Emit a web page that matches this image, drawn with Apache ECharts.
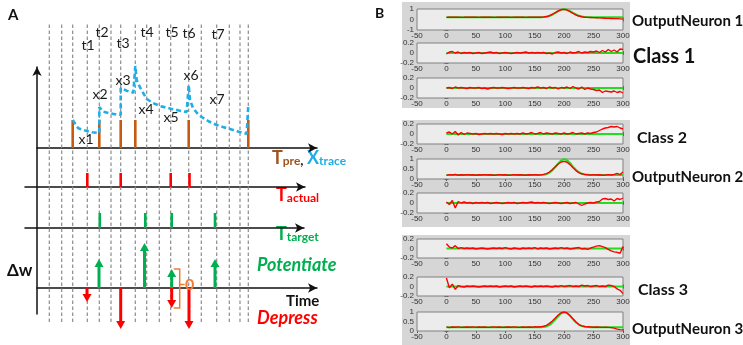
<!DOCTYPE html>
<html><head><meta charset="utf-8">
<script src="https://cdn.jsdelivr.net/npm/echarts@6/dist/echarts.min.js"></script>
<style>html,body{margin:0;padding:0;background:#fff}#c{width:743px;height:345px}</style>
</head><body><div id="c"></div>
<script>
// ================= Panel A data (time in arbitrary units) =================
const dashT = [12.3, 24.7, 35.7, 50.3, 62.3, 74, 83.7, 98.3, 109.7, 122.3, 133.7, 151.7, 164.3, 179.7, 192.3, 203, 211.3];
const preSpikeT = [35.7, 62.3, 83.7, 98.3, 151.7, 211.3];
const preSpikeH = [28, 28, 28, 28, 28, 28];
const traceT = [35.7, 37, 41.3, 49.7, 55, 62.3, 62.3, 66.3, 73, 78, 83.7, 83.7, 89.7, 96.3, 98.3, 98.3, 99.7, 103, 109.7, 116, 123, 133.7, 142, 149.7, 151.7, 151.7, 153, 156, 160, 164.7, 172, 179.7, 186, 193, 201, 209.7, 211.3, 211.3];
const traceV = [28, 26.3, 19.7, 17, 15.8, 15, 41, 36.3, 34.7, 33.8, 33, 60, 57.3, 55.3, 55, 82, 68, 60.7, 49, 45, 42, 39.3, 37.5, 36, 35.8, 63, 48, 40, 35, 31, 26.5, 23, 21, 19, 16.5, 14.2, 14, 43];
const actualT = [50.3, 83.7, 133.7, 152.5];
const actualH = [14, 14, 14, 14];
const targetT = [62.8, 108.3, 134.7, 178];
const targetH = [15, 15, 15, 15];
const dwT = [50, 62, 83.7, 107.5, 134.7, 134.7, 152, 178];
const dwV = [-14, 29, -41, 45, 19, -20, -41, 29];
const bracketT = [134.7];
const bracketTop = [19];
const bracketBottom = [-20];
const bracketLabel = ['0'];
const tLabels = ['t1', 't2', 't3', 't4', 't5', 't6', 't7'];
const tLabelT = [51, 65, 86, 110, 135, 152, 181];
const tLabelV = [103, 116, 105, 116, 116, 115, 114];
const xLabels = ['x1', 'x2', 'x3', 'x4', 'x5', 'x6', 'x7'];
const xLabelT = [49, 63, 86, 109, 134, 154, 180];
const xLabelV = [9, 54, 68, 39, 31, 73, 49];

// ================= Panel B data =================
const bX = [0,5,10,15,20,25,30,35,40,45,50,55,60,65,70,75,80,85,90,95,100,105,110,115,120,125,130,135,140,145,150,155,160,165,170,175,180,185,190,195,200,205,210,215,220,225,230,235,240,245,250,255,260,265,270,275,280,285,290,295,300];
const classTargetX = [0, 300];
const classTargetY = [0, 0];
const n1Target = [0.22,0.22,0.22,0.22,0.22,0.22,0.22,0.22,0.22,0.22, 0.22,0.22,0.22,0.22,0.22,0.22,0.22,0.22,0.22,0.22, 0.22,0.22,0.22,0.22,0.22,0.22,0.22,0.22,0.22,0.22, 0.22,0.22,0.22, 0.23,0.26,0.33,0.46,0.62,0.8,0.94,1.0,0.94,0.8,0.63,0.48,0.36,0.29,0.25,0.23, 0.22,0.22,0.22,0.22,0.22,0.22,0.22,0.22,0.22,0.22,0.22,0.22];
const n1Out = [0.2,0.22,0.21,0.23,0.22,0.2,0.21,0.23,0.22,0.21, 0.22,0.2,0.22,0.23,0.21,0.22,0.2,0.21,0.23,0.22, 0.21,0.22,0.2,0.22,0.21,0.23,0.22,0.2,0.22,0.21, 0.23,0.22,0.21, 0.24,0.28,0.36,0.5,0.66,0.82,0.93,0.97,0.9,0.75,0.58,0.43,0.33,0.26,0.22,0.2, 0.19,0.18,0.17,0.15,0.14,0.12,0.11,0.1,0.08,0.08,0.06,0.04];
const c1aOut = [-0.02,0.02,0.03,0.0,0.02,-0.01,0.01,0.0,0.01,-0.01, 0.0,0.01,-0.01,0.0,0.01,0.02,0.0,0.01,-0.01,0.0, 0.01,0.0,-0.01,0.0,0.01,0.0,0.01,0.02,0.0,0.01, 0.0,0.01,0.0,0.01,-0.01,0.0,-0.02,0.01,0.02,0.0, 0.01,-0.01,0.02,0.0,0.01,0.03,0.0,0.02,0.01,0.03, 0.02,0.04,0.01,0.05,0.02,0.07,0.03,0.06,0.02,0.08, 0.07];
const c1bOut = [0.0,0.01,-0.01,0.02,0.0,0.01,0.0,-0.01,0.01,0.0, 0.0,0.01,-0.01,0.0,-0.02,0.0,0.01,0.0,0.0,0.01, 0.0,-0.01,0.0,0.01,0.0,0.0,0.01,0.0,-0.01,0.01, 0.0,0.02,0.0,0.01,-0.01,0.02,0.0,0.01,-0.02,0.01, 0.0,0.02,-0.01,0.03,0.0,-0.02,0.02,-0.03,0.0,-0.02, -0.03,-0.05,-0.04,-0.09,-0.06,-0.07,-0.08,-0.06,-0.09,-0.07, -0.1];
const c2aOut = [0.02,0.04,0.0,0.05,-0.02,0.03,-0.01,0.02,0.01,0.0, 0.01,-0.01,0.0,0.01,0.0,0.01,0.0,0.01,0.0,-0.01, 0.01,0.0,0.01,0.0,0.01,0.0,0.02,0.0,0.01,0.03, 0.0,0.01,0.03,0.0,0.02,0.01,0.0,0.02,0.01,0.0, 0.02,0.0,0.01,0.03,0.0,0.01,0.02,0.0,0.02,0.01, 0.03,0.04,0.07,0.1,0.12,0.13,0.15,0.14,0.15,0.12, 0.1];
const n2Target = [0.2,0.2,0.2,0.2,0.2,0.2,0.2,0.2,0.2,0.2, 0.2,0.2,0.2,0.2,0.2,0.2,0.2,0.2,0.2,0.2, 0.2,0.2,0.2,0.2,0.2,0.2,0.2,0.2,0.2,0.2, 0.2,0.2,0.2, 0.21,0.24,0.31,0.44,0.6,0.78,0.93,1.0,0.94,0.8,0.62,0.46,0.34,0.26,0.22,0.21, 0.2,0.2,0.2,0.2,0.2,0.2,0.2,0.2,0.2,0.2,0.2,0.2];
const n2Out = [0.18,0.22,0.2,0.23,0.19,0.21,0.2,0.22,0.2,0.21, 0.19,0.21,0.2,0.22,0.2,0.21,0.19,0.2,0.22,0.2, 0.21,0.19,0.2,0.22,0.2,0.21,0.2,0.19,0.21,0.2, 0.22,0.2,0.21, 0.23,0.27,0.35,0.47,0.61,0.75,0.85,0.88,0.84,0.72,0.56,0.42,0.32,0.26,0.23,0.21, 0.2,0.22,0.2,0.21,0.19,0.2,0.22,0.2,0.23,0.28,0.22,0.35];
const c2cOut = [0.02,-0.03,0.05,-0.1,0.03,0.0,0.02,0.0,0.01,-0.01, 0.01,0.0,0.01,0.0,0.01,-0.01,0.0,0.01,0.0,-0.01, 0.0,0.01,0.0,0.01,-0.01,0.0,0.01,0.0,0.01,0.02, 0.0,0.01,0.0,0.01,0.0,-0.01,0.0,0.01,0.0,-0.01, 0.0,0.01,-0.01,0.0,0.01,-0.02,-0.05,-0.02,0.0,0.01, 0.0,0.02,0.03,0.08,0.09,0.07,0.08,0.04,0.09,0.07, 0.1];
const c3aOut = [0.1,0.03,0.01,0.06,0.0,0.02,0.0,0.01,0.0,0.01, -0.01,0.0,0.01,0.0,-0.01,0.0,0.01,0.0,0.01,0.0, 0.02,0.0,-0.01,0.01,0.0,-0.01,0.01,0.0,0.01,0.0, 0.02,-0.01,0.01,0.0,0.01,-0.01,0.0,0.01,0.0,0.02, 0.0,0.01,-0.01,0.0,0.01,0.02,-0.01,0.0,-0.02,0.01, 0.03,0.05,0.06,0.04,0.02,-0.02,-0.05,-0.07,-0.08,-0.1, 0.04];
const c3bOut = [0.18,-0.03,0.05,-0.06,0.02,0.0,-0.01,0.01,0.0,0.01, 0.0,-0.01,0.0,0.01,0.0,0.01,0.0,0.01,-0.01,0.0, 0.01,0.0,0.01,-0.01,0.0,0.01,0.0,0.01,0.0,-0.01, 0.01,0.0,0.01,0.0,0.01,0.0,-0.01,0.01,0.0,0.02, 0.0,0.01,0.02,0.0,0.01,0.0,0.03,0.01,0.02,0.0, 0.01,0.02,0.0,0.01,0.0,0.03,0.02,0.0,-0.05,-0.08, -0.15];
const n3Target = [0.2,0.2,0.2,0.2,0.2,0.2,0.2,0.2,0.2,0.2, 0.2,0.2,0.2,0.2,0.2,0.2,0.2,0.2,0.2,0.2, 0.2,0.2,0.2,0.2,0.2,0.2,0.2,0.2,0.2,0.2, 0.2,0.2,0.2, 0.21,0.24,0.31,0.44,0.6,0.78,0.93,1.0,0.94,0.8,0.62,0.46,0.34,0.26,0.22,0.21, 0.2,0.2,0.2,0.2,0.2,0.2,0.2,0.2,0.2,0.2,0.2,0.2];
const n3Out = [0.22,0.18,0.21,0.2,0.22,0.19,0.2,0.21,0.2,0.22, 0.19,0.21,0.2,0.21,0.19,0.2,0.22,0.2,0.21,0.19, 0.2,0.21,0.2,0.22,0.2,0.19,0.21,0.2,0.21,0.2, 0.22,0.21,0.22, 0.25,0.3,0.4,0.53,0.68,0.84,0.96,1.0,0.95,0.82,0.64,0.47,0.34,0.27,0.24,0.22, 0.21,0.2,0.21,0.2,0.19,0.2,0.19,0.18,0.15,0.1,0.07,0.06];
const bLabels = ['OutputNeuron 1', 'Class 1', 'Class 2', 'OutputNeuron 2', 'Class 3', 'OutputNeuron 3'];

// ================= colours =================
const C = {
  brown: '#c55a11', brownText: '#a0531a', blue: '#1faee8', red: '#ff0000',
  green: '#00b050', orange: '#ed7d31', dash: '#8c8c8c', axis: '#111'
};
const FONT = 'Lato, "Liberation Sans", sans-serif';

const zip = (a, b) => a.map((v, i) => [v, b[i]]);

const grids = [], xAxes = [], yAxes = [], series = [];

function addGrid(g, xa, ya) {
  const gi = grids.length;
  grids.push(Object.assign({ containLabel: false }, g));
  xAxes.push(Object.assign({ gridIndex: gi, type: 'value' }, xa));
  yAxes.push(Object.assign({ gridIndex: gi, type: 'value' }, ya));
  return gi;
}
const hiddenAxis = (min, max) => ({ min, max, show: false });
const arrowAxis = (min, max) => ({
  min, max, show: true,
  axisLine: { show: true, onZero: true, symbol: ['none', 'arrow'], symbolSize: [7, 9], lineStyle: { color: C.axis, width: 1.5 } },
  axisTick: { show: false }, axisLabel: { show: false }, splitLine: { show: false }
});

// ---- Panel A grids ----
const gDash = addGrid({ left: 37, top: 23, width: 280, height: 299 }, hiddenAxis(0, 280), hiddenAxis(0, 1));
const gVert = addGrid({ left: 37, top: 67, width: 280, height: 247 }, hiddenAxis(0, 280), {
  min: 0, max: 1, show: true,
  axisLine: { show: true, symbol: ['none', 'arrow'], symbolSize: [7, 9], lineStyle: { color: C.axis, width: 1.5 } },
  axisTick: { show: false }, axisLabel: { show: false }, splitLine: { show: false }
});
const gTrace = addGrid({ left: 37, top: 23, width: 280, height: 125 }, arrowAxis(0, 280), hiddenAxis(0, 125));
const gAct = addGrid({ left: 25, top: 167, width: 280, height: 20 }, arrowAxis(-12, 268), hiddenAxis(0, 20));
const gTgt = addGrid({ left: 25, top: 208, width: 279, height: 20 }, arrowAxis(-12, 267), hiddenAxis(0, 20));
const gDw = addGrid({ left: 37, top: 240, width: 280, height: 96 }, arrowAxis(0, 280), hiddenAxis(-48, 48));

function spikeRender(color, w) {
  return function (params, api) {
    const p0 = api.coord([api.value(0), 0]);
    const p1 = api.coord([api.value(0), api.value(1)]);
    return { type: 'line', shape: { x1: p0[0], y1: p0[1], x2: p1[0], y2: p1[1] }, style: { stroke: color, lineWidth: w } };
  };
}
function textRender(labels, font, color) {
  return function (params, api) {
    const p = api.coord([api.value(0), api.value(1)]);
    return { type: 'text', x: p[0], y: p[1], style: { text: labels[params.dataIndex], font: font, fill: color, align: 'center', verticalAlign: 'middle', textAlign: 'center', textVerticalAlign: 'middle' } };
  };
}

series.push({
  type: 'custom', xAxisIndex: gDash, yAxisIndex: gDash, z: 1, silent: true,
  data: dashT.map(t => [t, 1]),
  renderItem: function (params, api) {
    const p0 = api.coord([api.value(0), 0]);
    const p1 = api.coord([api.value(0), 1]);
    return { type: 'line', shape: { x1: p0[0], y1: p0[1], x2: p1[0], y2: p1[1] }, style: { stroke: C.dash, lineWidth: 1.2, lineDash: [3.5, 2.5] } };
  }
});
series.push({ type: 'custom', xAxisIndex: gTrace, yAxisIndex: gTrace, z: 3, data: zip(preSpikeT, preSpikeH), renderItem: spikeRender(C.brown, 2.6) });
series.push({
  type: 'line', xAxisIndex: gTrace, yAxisIndex: gTrace, z: 4, data: zip(traceT, traceV),
  showSymbol: false, symbol: 'none', clip: false,
  lineStyle: { color: C.blue, width: 2.6, type: [5, 3] }
});
series.push({ type: 'custom', xAxisIndex: gTrace, yAxisIndex: gTrace, z: 5, data: zip(tLabelT, tLabelV), renderItem: textRender(tLabels, '14px ' + FONT, '#1a1a1a') });
series.push({ type: 'custom', xAxisIndex: gTrace, yAxisIndex: gTrace, z: 5, data: zip(xLabelT, xLabelV), renderItem: textRender(xLabels, '14px ' + FONT, '#1a1a1a') });
series.push({ type: 'custom', xAxisIndex: gAct, yAxisIndex: gAct, z: 3, data: zip(actualT, actualH), renderItem: spikeRender(C.red, 2.6) });
series.push({ type: 'custom', xAxisIndex: gTgt, yAxisIndex: gTgt, z: 3, data: zip(targetT, targetH), renderItem: spikeRender(C.green, 2.6) });
series.push({
  type: 'custom', xAxisIndex: gDw, yAxisIndex: gDw, z: 3, data: zip(dwT, dwV),
  renderItem: function (params, api) {
    const t = api.value(0), v = api.value(1);
    const p0 = api.coord([t, 0]), p1 = api.coord([t, v]);
    const up = v > 0;
    const color = up ? C.green : C.red;
    const head = 8, hw = 4.5;
    const yb = up ? p1[1] + head : p1[1] - head;
    return {
      type: 'group', children: [
        { type: 'line', shape: { x1: p0[0], y1: p0[1], x2: p0[0], y2: yb }, style: { stroke: color, lineWidth: 3 } },
        { type: 'polygon', shape: { points: [[p1[0], p1[1]], [p1[0] - hw, yb], [p1[0] + hw, yb]] }, style: { fill: color } }
      ]
    };
  }
});
series.push({
  type: 'custom', xAxisIndex: gDw, yAxisIndex: gDw, z: 4,
  data: bracketT.map((t, i) => [t, bracketTop[i], bracketBottom[i]]),
  renderItem: function (params, api) {
    const t = api.value(0);
    const pt = api.coord([t, api.value(1)]), pb = api.coord([t, api.value(2)]);
    const xl = pt[0] + 2, xr = pt[0] + 8, ym = (pt[1] + pb[1]) / 2;
    return {
      type: 'group', children: [
        { type: 'polyline', shape: { points: [[xl, pt[1]], [xr, pt[1]], [xr, pb[1]], [xl, pb[1]]] }, style: { stroke: C.orange, lineWidth: 1.5, fill: null } },
        { type: 'line', shape: { x1: xr, y1: ym - 4, x2: xr + 5, y2: ym - 4 }, style: { stroke: C.orange, lineWidth: 1.5 } },
        { type: 'text', x: xr + 10, y: ym - 4, style: { text: bracketLabel[params.dataIndex], font: 'bold 16px ' + FONT, fill: C.orange, align: 'center', verticalAlign: 'middle', textAlign: 'center', textVerticalAlign: 'middle' } }
      ]
    };
  }
});

// ---- Panel B grids ----
const bPanels = [
  { top: 9, h: 21, min: -1, max: 1, iv: 1, tx: bX, ty: n1Target, oy: n1Out },
  { top: 43, h: 20, min: -0.2, max: 0.2, iv: 0.2, tx: classTargetX, ty: classTargetY, oy: c1aOut },
  { top: 78, h: 20, min: -0.2, max: 0.2, iv: 0.2, tx: classTargetX, ty: classTargetY, oy: c1bOut },
  { top: 124, h: 20, min: -0.2, max: 0.2, iv: 0.2, tx: classTargetX, ty: classTargetY, oy: c2aOut },
  { top: 159, h: 20, min: 0, max: 1, iv: 0.5, tx: bX, ty: n2Target, oy: n2Out },
  { top: 193, h: 20, min: -0.2, max: 0.2, iv: 0.2, tx: classTargetX, ty: classTargetY, oy: c2cOut },
  { top: 239, h: 19, min: -0.2, max: 0.2, iv: 0.2, tx: classTargetX, ty: classTargetY, oy: c3aOut },
  { top: 277, h: 19, min: -0.2, max: 0.2, iv: 0.2, tx: classTargetX, ty: classTargetY, oy: c3bOut },
  { top: 312, h: 19, min: 0, max: 1, iv: 0.5, tx: bX, ty: n3Target, oy: n3Out }
];
const tickStyle = { show: true, inside: true, length: 2, lineStyle: { color: '#555', width: 1 } };
const bLabelStyle = { fontSize: 8, color: '#333', fontFamily: '"Liberation Sans", Arial, sans-serif' };
bPanels.forEach(p => {
  const gi = grids.length;
  grids.push({ left: 417, width: 206, top: p.top, height: p.h, show: true, backgroundColor: '#ececec', borderColor: '#808080', borderWidth: 1, z: 2 });
  xAxes.push({ gridIndex: gi, type: 'value', min: -50, max: 300, interval: 50, position: 'bottom',
    axisLine: { show: false }, axisTick: tickStyle, axisLabel: Object.assign({ margin: 2 }, bLabelStyle), splitLine: { show: false } });
  xAxes.push({ gridIndex: gi, type: 'value', min: -50, max: 300, interval: 50, position: 'top',
    axisLine: { show: false }, axisTick: tickStyle, axisLabel: { show: false }, splitLine: { show: false } });
  yAxes.push({ gridIndex: gi, type: 'value', min: p.min, max: p.max, interval: p.iv, position: 'left',
    axisLine: { show: false }, axisTick: tickStyle, axisLabel: Object.assign({ margin: 3 }, bLabelStyle), splitLine: { show: false } });
  yAxes.push({ gridIndex: gi, type: 'value', min: p.min, max: p.max, interval: p.iv, position: 'right',
    axisLine: { show: false }, axisTick: tickStyle, axisLabel: { show: false }, splitLine: { show: false } });
  const xi = xAxes.length - 2, yi = yAxes.length - 2;
  series.push({ type: 'line', xAxisIndex: xi, yAxisIndex: yi, data: zip(p.tx, p.ty), showSymbol: false, symbol: 'none', z: 3,
    lineStyle: { color: '#22dd22', width: 2 } });
  series.push({ type: 'line', xAxisIndex: xi, yAxisIndex: yi, data: zip(bX, p.oy), showSymbol: false, symbol: 'none', z: 4,
    lineStyle: { color: '#ff0000', width: 1.4 } });
});

// ---- annotations (text) ----
const graphic = [
  { type: 'rect', z: -10, shape: { x: 402, y: 2, width: 228, height: 106 }, style: { fill: '#d6d6d6' } },
  { type: 'rect', z: -10, shape: { x: 402, y: 120, width: 228, height: 107 }, style: { fill: '#d6d6d6' } },
  { type: 'rect', z: -10, shape: { x: 402, y: 235, width: 228, height: 110 }, style: { fill: '#d6d6d6' } },
  { type: 'text', x: 8, y: 15, style: { text: 'A', font: 'bold 15px ' + FONT, fill: '#111', verticalAlign: 'middle', textVerticalAlign: 'middle' } },
  { type: 'text', x: 375, y: 13, style: { text: 'B', font: 'bold 14px ' + FONT, fill: '#111', verticalAlign: 'middle', textVerticalAlign: 'middle' } },
  { type: 'text', x: 7, y: 271, style: { text: 'Δw', font: 'bold 17px ' + FONT, fill: '#111', verticalAlign: 'middle', textVerticalAlign: 'middle' } },
  { type: 'text', x: 272, y: 167, style: {
      text: '{a|T}{b|pre}{c|, }{d|X}{e|trace}', verticalAlign: 'bottom', textVerticalAlign: 'bottom',
      rich: {
        a: { fill: C.brownText, fontSize: 18, fontWeight: 'bold', fontFamily: FONT, verticalAlign: 'bottom' },
        b: { fill: C.brownText, fontSize: 12, fontWeight: 'bold', fontFamily: FONT, verticalAlign: 'bottom' },
        c: { fill: '#222', fontSize: 14, fontWeight: 'bold', fontFamily: FONT, verticalAlign: 'bottom' },
        d: { fill: C.blue, fontSize: 18, fontWeight: 'bold', fontFamily: FONT, verticalAlign: 'bottom' },
        e: { fill: C.blue, fontSize: 12, fontWeight: 'bold', fontFamily: FONT, verticalAlign: 'bottom' }
      } } },
  { type: 'text', x: 276, y: 204, style: {
      text: '{a|T}{b|actual}', verticalAlign: 'bottom', textVerticalAlign: 'bottom',
      rich: {
        a: { fill: C.red, fontSize: 18, fontWeight: 'bold', fontFamily: FONT, verticalAlign: 'bottom' },
        b: { fill: C.red, fontSize: 12, fontWeight: 'bold', fontFamily: FONT, verticalAlign: 'bottom' }
      } } },
  { type: 'text', x: 276, y: 243, style: {
      text: '{a|T}{b|target}', verticalAlign: 'bottom', textVerticalAlign: 'bottom',
      rich: {
        a: { fill: C.green, fontSize: 18, fontWeight: 'bold', fontFamily: FONT, verticalAlign: 'bottom' },
        b: { fill: C.green, fontSize: 12, fontWeight: 'bold', fontFamily: FONT, verticalAlign: 'bottom' }
      } } },
  { type: 'text', x: 257, y: 265, style: { text: 'Potentiate', font: 'italic bold 18px ' + FONT, fill: C.green, verticalAlign: 'middle', textVerticalAlign: 'middle' } },
  { type: 'text', x: 286, y: 301, style: { text: 'Time', font: 'bold 15px ' + FONT, fill: '#111', verticalAlign: 'middle', textVerticalAlign: 'middle' } },
  { type: 'text', x: 257, y: 318, style: { text: 'Depress', font: 'italic bold 18px ' + FONT, fill: C.red, verticalAlign: 'middle', textVerticalAlign: 'middle' } },
  { type: 'text', x: 632, y: 21, style: { text: bLabels[0], font: 'bold 15px ' + FONT, fill: '#111', verticalAlign: 'middle', textVerticalAlign: 'middle' } },
  { type: 'text', x: 633, y: 57, style: { text: bLabels[1], font: 'bold 20px ' + FONT, fill: '#111', verticalAlign: 'middle', textVerticalAlign: 'middle' } },
  { type: 'text', x: 637, y: 138, style: { text: bLabels[2], font: 'bold 16px ' + FONT, fill: '#111', verticalAlign: 'middle', textVerticalAlign: 'middle' } },
  { type: 'text', x: 632, y: 177, style: { text: bLabels[3], font: 'bold 15px ' + FONT, fill: '#111', verticalAlign: 'middle', textVerticalAlign: 'middle' } },
  { type: 'text', x: 638, y: 290, style: { text: bLabels[4], font: 'bold 16px ' + FONT, fill: '#111', verticalAlign: 'middle', textVerticalAlign: 'middle' } },
  { type: 'text', x: 632, y: 329, style: { text: bLabels[5], font: 'bold 15px ' + FONT, fill: '#111', verticalAlign: 'middle', textVerticalAlign: 'middle' } }
];

const chart = echarts.init(document.getElementById('c'), null, { renderer: 'canvas' });
chart.setOption({
  animation: false,
  backgroundColor: '#ffffff',
  grid: grids, xAxis: xAxes, yAxis: yAxes, series: series, graphic: graphic
});
</script>
</body></html>
